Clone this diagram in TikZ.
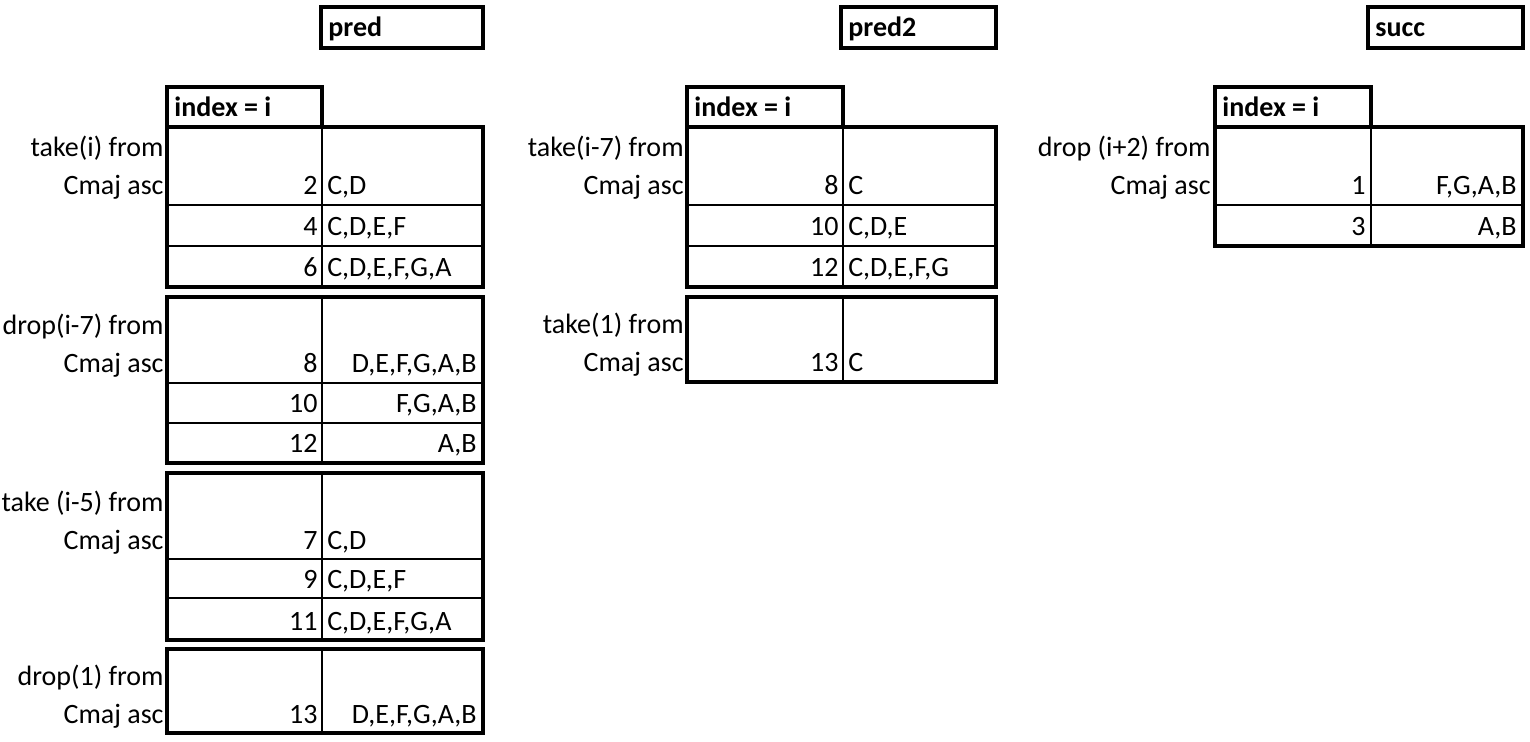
\documentclass[tikz,border=0pt]{standalone}
\usepackage{fontspec}
\setmainfont{Carlito}
\newcommand\cellsize{\fontsize{14}{16}\selectfont}
\tikzset{
  outer/.style={line width=1.6pt},
  inner/.style={line width=0.6pt},
  rowlbl/.style={anchor=base east,inner sep=0pt},
  numcell/.style={anchor=base east,inner sep=0pt},
  lcell/.style={anchor=base west,inner sep=0pt},
  rcell/.style={anchor=base east,inner sep=0pt},
  headtxt/.style={anchor=base west,inner sep=0pt,font=\cellsize\bfseries}
}
\begin{document}
\begin{tikzpicture}[x=0.5pt,y=-0.5pt,font=\cellsize]
\useasboundingbox (0,0) rectangle (1530,742);
% function names and index headers
\foreach \n/\xa/\xb/\t in {pred/321/483/pred,predb/841/996/pred2,succ/1368/1523/succ} {
  \draw [outer] (\xa,7) rectangle (\xb,48);
  \node [headtxt] (\n) at (\xa+7,37) {\t};
}
\foreach \n/\xa/\xb in {pidx/167/322,qidx/687/843,sidx/1215/1371} {
  \draw [outer] (\xa,87) rectangle (\xb,127);
  \node [headtxt] (\n) at (\xa+7,117) {index = i};
}
% pred
\draw [outer] (167,127) rectangle (483,287);
\draw [inner] (322,127) -- (322,287);
\foreach \y in {205,246} \draw [inner] (167,\y) -- (483,\y);
\node [rowlbl] (pta) at (164,157) {take(i) from};
\node [rowlbl] (ptb) at (164,195) {Cmaj asc};
\foreach \y/\i/\s in {195/2/{C,D},236/4/{C,D,E,F},277/6/{C,D,E,F,G,A}} {
  \node [numcell] (ptn\i) at (318,\y) {\i};
  \node [lcell] (pts\i) at (327,\y) {\s};
}
\draw [outer] (167,297) rectangle (483,463);
\draw [inner] (322,297) -- (322,463);
\foreach \y in {383,423} \draw [inner] (167,\y) -- (483,\y);
\node [rowlbl] (pda) at (164,335) {drop(i-7) from};
\node [rowlbl] (pdb) at (164,373) {Cmaj asc};
\foreach \y/\i/\s in {373/8/{D,E,F,G,A,B},413/10/{F,G,A,B},453/12/{A,B}} {
  \node [numcell] (pdn\i) at (318,\y) {\i};
  \node [rcell] (pds\i) at (477,\y) {\s};
}
\draw [outer] (167,473) rectangle (483,640);
\draw [inner] (322,473) -- (322,640);
\foreach \y in {559,598} \draw [inner] (167,\y) -- (483,\y);
\node [rowlbl] (pua) at (164,511) {take (i-5) from};
\node [rowlbl] (pub) at (164,549) {Cmaj asc};
\foreach \y/\i/\s in {549/7/{C,D},588/9/{C,D,E,F},630/11/{C,D,E,F,G,A}} {
  \node [numcell] (pun\i) at (318,\y) {\i};
  \node [lcell] (pus\i) at (327,\y) {\s};
}
\draw [outer] (167,649) rectangle (483,733);
\draw [inner] (322,649) -- (322,733);
\node [rowlbl] (pea) at (164,685) {drop(1) from};
\node [rowlbl] (peb) at (164,723) {Cmaj asc};
\node [numcell] (pen13) at (318,723) {13};
\node [rcell] (pes13) at (477,723) {D,E,F,G,A,B};
% pred2
\draw [outer] (687,127) rectangle (996,287);
\draw [inner] (843,127) -- (843,287);
\foreach \y in {205,246} \draw [inner] (687,\y) -- (996,\y);
\node [rowlbl] (qta) at (684,157) {take(i-7) from};
\node [rowlbl] (qtb) at (684,195) {Cmaj asc};
\foreach \y/\i/\s in {195/8/C,236/10/{C,D,E},277/12/{C,D,E,F,G}} {
  \node [numcell] (qtn\i) at (839,\y) {\i};
  \node [lcell] (qts\i) at (848,\y) {\s};
}
\draw [outer] (687,297) rectangle (996,382);
\draw [inner] (843,297) -- (843,382);
\node [rowlbl] (qea) at (684,334) {take(1) from};
\node [rowlbl] (qeb) at (684,372) {Cmaj asc};
\node [numcell] (qen13) at (839,372) {13};
\node [lcell] (qes13) at (848,372) {C};
% succ
\draw [outer] (1215,127) rectangle (1523,246);
\draw [inner] (1371,127) -- (1371,246);
\draw [inner] (1215,205) -- (1523,205);
\node [rowlbl] (sda) at (1211,157) {drop (i+2) from};
\node [rowlbl] (sdb) at (1211,195) {Cmaj asc};
\foreach \y/\i/\s in {195/1/{F,G,A,B},236/3/{A,B}} {
  \node [numcell] (sdn\i) at (1366,\y) {\i};
  \node [rcell] (sds\i) at (1517,\y) {\s};
}
\end{tikzpicture}
\end{document}
